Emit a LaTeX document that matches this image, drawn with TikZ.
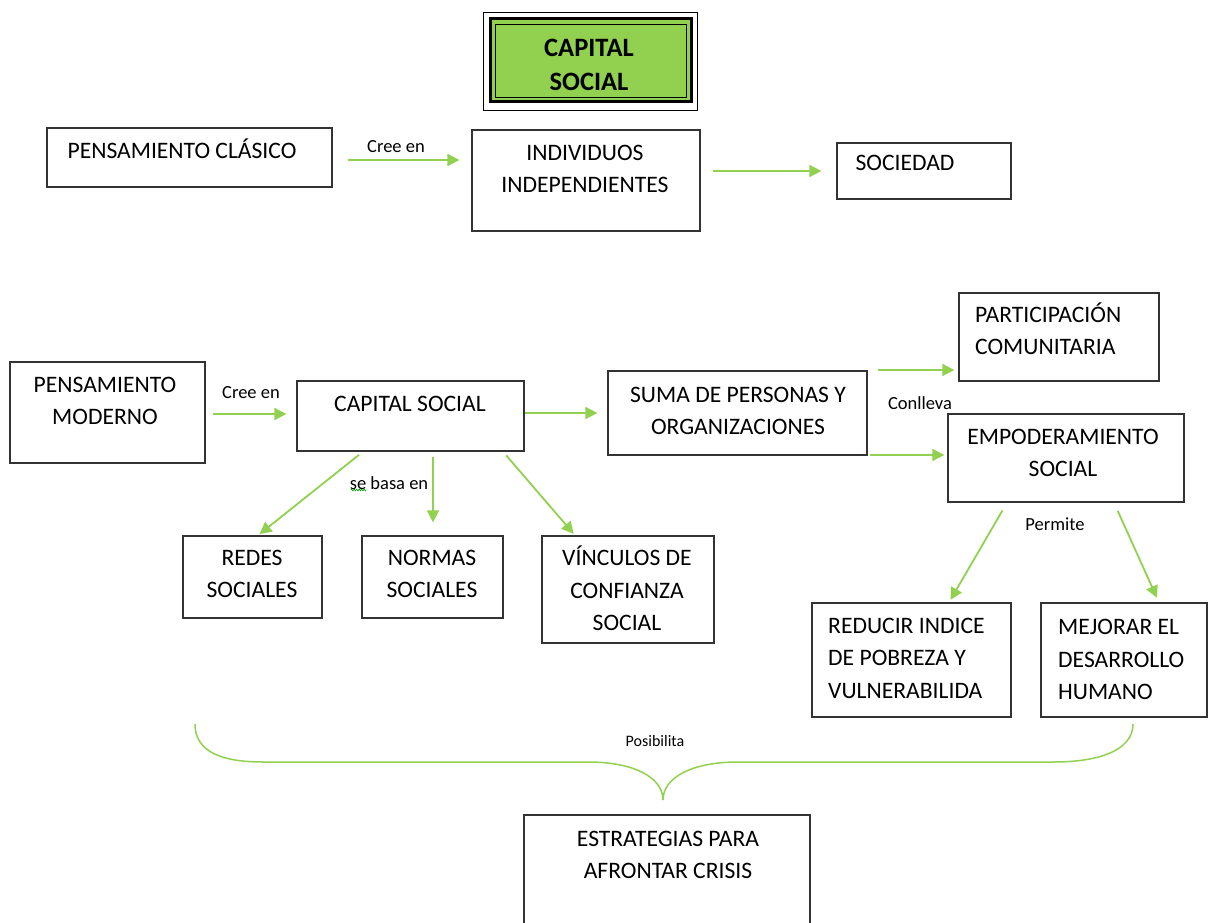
\documentclass[tikz,border=0pt]{standalone}
\usepackage{fontspec}
\setmainfont{Carlito}
\usetikzlibrary{arrows.meta,fit,decorations.pathmorphing}
\definecolor{lgreen}{HTML}{92D050}
\definecolor{bgray}{HTML}{333333}
\begin{document}
\begin{tikzpicture}[x=1pt,y=-1pt,
  box/.style={draw=bgray, line width=1.3pt, inner sep=0pt},
  txt/.style={font=\fontsize{23.6}{32}\selectfont, inner sep=0pt, align=center},
  ltxt/.style={font=\fontsize{23.6}{32.5}\selectfont, inner sep=0pt, align=left, anchor=west},
  lbl/.style={font=\fontsize{18.5}{20}\selectfont, inner sep=0pt},
  arr/.style={draw=lgreen, line width=1.8pt, -{Triangle[length=12pt,width=12pt]}}]
\clip (0,0) rectangle (1208,923);
\fill[white] (0,0) rectangle (1208,923);

% title
\node[fit={(483,12) (697,110)}, inner sep=0pt, draw=black, line width=0.8pt] (title) {};
\draw[line width=3pt, fill=lgreen] (490,19) rectangle (691,102);
\draw[line width=0.8pt] (495,24) rectangle (686,97);
\node[txt, font=\bfseries\fontsize{26.5}{34}\selectfont] (ttitle) at (589,64.5) {CAPITAL\\SOCIAL};

% boxes
\node[box, fit={(47,128) (332,187)}] (pc) {};
\node[box, fit={(472,130) (700,231)}] (ind) {};
\node[box, fit={(837,143) (1011,199)}] (soc) {};
\node[box, fit={(959,293) (1159,381)}] (part) {};
\node[box, fit={(10,362) (205,463)}] (pm) {};
\node[box, fit={(297,381) (524,451)}] (cs) {};
\node[box, fit={(608,371) (867,455)}] (suma) {};
\node[box, fit={(948,414) (1184,502)}] (emp) {};
\node[box, fit={(183,536) (322,618)}] (redes) {};
\node[box, fit={(362,536) (503,618)}] (normas) {};
\node[box, fit={(542,536) (714,643)}] (vinc) {};
\node[box, fit={(812,603) (1011,717)}] (red) {};
\node[box, fit={(1041,603) (1207,717)}] (mej) {};
\node[box, fit={(524,815) (810,940)}] (est) {};

% texts
\node[txt] (tpc) at (182,150.5) {PENSAMIENTO CL\smash{Á}SICO};
\node[txt] (tind) at (585,168.5) {INDIVIDUOS\\INDEPENDIENTES};
\node[txt] (tsoc) at (905,163) {SOCIEDAD};
\node[ltxt] (tpart) at (975,331) {PARTICIPACI\smash{Ó}N\\COMUNITARIA};
\node[txt] (tpm) at (105,400.5) {PENSAMIENTO\\MODERNO};
\node[txt] (tcs) at (410,404) {CAPITAL SOCIAL};
\node[txt] (tsuma) at (738,410.5) {SUMA DE PERSONAS Y\\ORGANIZACIONES};
\node[txt] (temp) at (1063,452.5) {EMPODERAMIENTO\\SOCIAL};
\node[txt] (tredes) at (252,573.5) {REDES\\SOCIALES};
\node[txt] (tnormas) at (432,574) {NORMAS\\SOCIALES};
\node[txt, font=\fontsize{23.6}{32.5}\selectfont] (tvinc) at (627,590.5) {V\smash{Í}NCULOS DE\\CONFIANZA\\SOCIAL};
\node[ltxt] (tred) at (828,658) {REDUCIR INDICE\\DE POBREZA Y\\VULNERABILIDA};
\node[ltxt] (tmej) at (1058,659.5) {MEJORAR EL\\DESARROLLO\\HUMANO};
\node[txt] (test) at (668,855) {ESTRATEGIAS PARA\\AFRONTAR CRISIS};

% labels
\node[lbl] (l1) at (396,147) {Cree en};
\node[lbl] (l2) at (251,393) {Cree en};
\node[lbl] (l3) at (389,483) {se basa en};
\node[lbl] (l4) at (920,403) {Conlleva};
\node[lbl] (l5) at (1055,524) {Permite};
\node[lbl, font=\fontsize{16}{18}\selectfont] (l6) at (655,741) {Posibilita};
\draw[green!60!black, line width=0.6pt, decorate, decoration={zigzag, amplitude=0.9pt, segment length=2.5pt}] (351,490) -- (366,490);

% arrows
\draw[arr, shorten <=15pt, shorten >=12pt] (pc.east |- 0,160) -- (ind.west |- 0,160);
\draw[arr, shorten <=12pt, shorten >=15pt] (ind.east |- 0,171) -- (soc.west |- 0,171);
\draw[arr, shorten <=7pt, shorten >=10pt] (pm.east |- 0,414) -- (cs.west |- 0,414);
\draw[arr, shorten >=10pt] (cs.east |- 0,413) -- (suma.west |- 0,413);
\draw[arr, shorten <=10pt, shorten >=4pt] (suma.east |- 0,370) -- (part.west |- 0,370);
\draw[arr, shorten <=2pt, shorten >=3pt] (suma.east |- 0,455) -- (emp.west |- 0,455);
\draw[arr, shorten <=5pt, shorten >=2pt] (cs.south -| 363,0) -- (redes.north -| 258,0);
\draw[arr, shorten <=5pt, shorten >=13pt] (cs.south -| 433,0) -- (normas.north -| 433,0);
\draw[arr, shorten <=5pt, shorten >=2pt] (cs.south -| 503,0) -- (vinc.north -| 575,0);
\draw[arr, shorten <=9pt, shorten >=3pt] (emp.south -| 1007,0) -- (red.north -| 949,0);
\draw[arr, shorten <=9pt, shorten >=5pt] (emp.south -| 1114,0) -- (mej.north -| 1159,0);

% brace
\draw[lgreen, line width=1.5pt] (195,724)
  .. controls (195,752) and (222,762) .. (263,762) -- (588,762)
  .. controls (635,762) and (663,778) .. (663,800)
  .. controls (663,778) and (691,762) .. (738,762) -- (1054,762)
  .. controls (1095,762) and (1133,752) .. (1133,724);
\end{tikzpicture}
\end{document}
